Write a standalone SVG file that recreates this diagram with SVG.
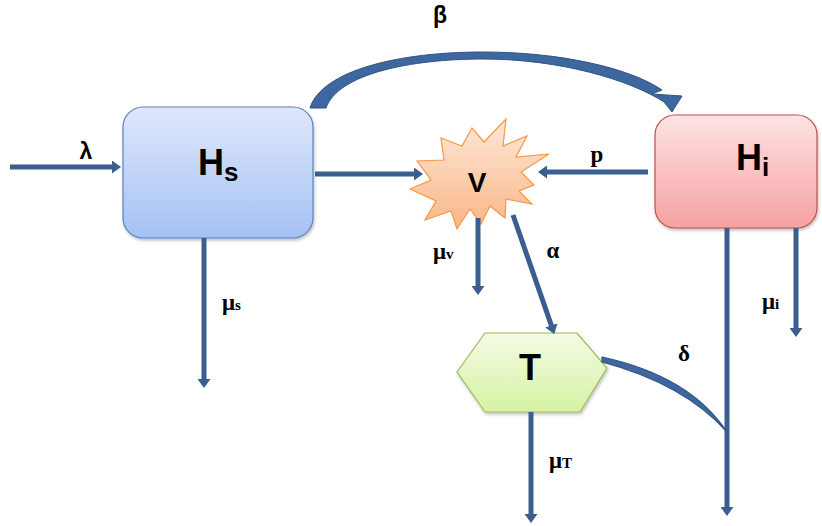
<svg xmlns="http://www.w3.org/2000/svg" width="822" height="526" viewBox="0 0 822 526">
<defs>
<linearGradient id="gHs" x1="0" y1="0" x2="0" y2="1"><stop offset="0" stop-color="#dfe8fa"/><stop offset="1" stop-color="#a4c1f5"/></linearGradient>
<linearGradient id="gHi" x1="0" y1="0" x2="0" y2="1"><stop offset="0" stop-color="#fde3e3"/><stop offset="1" stop-color="#f6a1a1"/></linearGradient>
<linearGradient id="gV" x1="0" y1="0" x2="0" y2="1"><stop offset="0" stop-color="#fde8d6"/><stop offset="1" stop-color="#fab689"/></linearGradient>
<linearGradient id="gT" x1="0" y1="0" x2="0" y2="1"><stop offset="0" stop-color="#f4fbe3"/><stop offset="1" stop-color="#d6f2a3"/></linearGradient>
<filter id="sh" x="-10%" y="-10%" width="130%" height="130%"><feDropShadow dx="1" dy="2" stdDeviation="1.5" flood-color="#000" flood-opacity="0.25"/></filter>
<marker id="ah" markerUnits="userSpaceOnUse" markerWidth="9" markerHeight="13" viewBox="0 0 9 13" refX="1" refY="6.5" orient="auto"><path d="M0,0 L9,6.5 L0,13 Z" fill="#3a5f8f"/></marker>
</defs>
<style>
.c{stroke:#3a5f8f;stroke-width:5;fill:none}
.a{marker-end:url(#ah)}
.n{font-family:"Liberation Sans",Arial,sans-serif;font-weight:bold;fill:#000}
.l{font-family:"Liberation Serif","Times New Roman",serif;font-weight:bold;fill:#000;font-size:23px}
.s{font-family:"Liberation Sans",Arial,sans-serif}
</style>
<g id="Hs"><rect x="123" y="107" width="190" height="131" rx="20" fill="url(#gHs)" stroke="#5a83bd" stroke-width="1.2" filter="url(#sh)"/><text class="n" x="198" y="175" font-size="36">H<tspan font-size="26" dy="6">s</tspan></text></g>
<g id="Hi"><rect x="655" y="115" width="162" height="113" rx="20" fill="url(#gHi)" stroke="#c0504d" stroke-width="1.2" filter="url(#sh)"/><text class="n" x="736" y="170" font-size="36">H<tspan font-size="26" dy="6">i</tspan></text></g>
<g id="V"><path d="M441,138 L462,146 L472,128 L484,142 L506,119 L503,146 L527,136 L516,157 L549,154 L521,172 L534,185 L519,191 L532,204 L506,199 L505,218 L490,206 L481,224 L470,209 L457,229 L451,211 L425,220 L436,201 L410,189 L431,180 L417,161 L444,160 Z" fill="url(#gV)" stroke="#f79646" stroke-width="1.2" stroke-linejoin="miter"/><text class="n" x="477" y="192" font-size="28" text-anchor="middle">V</text></g>
<g id="T"><polygon points="457,372 485,333 577,333 607,368 580,412 485,412" fill="url(#gT)" stroke="#9bbb59" stroke-width="1.2" filter="url(#sh)"/><text class="n" x="530" y="380" font-size="36" text-anchor="middle">T</text></g>
<g id="connectors">
<line class="c a" x1="10" y1="167" x2="113" y2="167"/>
<line class="c a" x1="315" y1="174" x2="415" y2="174"/>
<line class="c a" x1="648" y1="172" x2="546" y2="172"/>
<line class="c a" x1="204" y1="238" x2="204" y2="380"/>
<line class="c a" x1="478" y1="218" x2="478" y2="287"/>
<line class="c a" x1="513" y1="215" x2="551.7" y2="326.4"/>
<line class="c a" x1="531" y1="412" x2="531" y2="515"/>
<line class="c a" x1="727" y1="228" x2="727" y2="508"/>
<line class="c a" x1="796" y1="228" x2="796" y2="329"/>
<path d="M310,108 C322,70 400,52 483,52 C560,52 630,68 662,90 L652,94 L682,96 L672,112 L664,102 C630,80 560,59 483,59 C410,59 338,74 326,108 Z" fill="#3e67a0" stroke="#2f5485" stroke-width="1"/>
<path d="M602,357 Q690,376 727,432 Q684,384 602,362 Z" fill="#3e67a0" stroke="#2f5485" stroke-width="1.2"/>
</g>
<g id="labels">
<text class="l s" x="440" y="23" text-anchor="middle">β</text>
<text class="l s" x="86" y="159" text-anchor="middle">λ</text>
<text class="l" x="597" y="162" text-anchor="middle">p</text>
<text class="l" x="433" y="259">μ<tspan font-size="15">v</tspan></text>
<text class="l" x="553" y="258" text-anchor="middle">α</text>
<text class="l" x="222" y="310">μ<tspan font-size="15">s</tspan></text>
<text class="l" x="762" y="309">μ<tspan font-size="15">i</tspan></text>
<text class="l" x="549" y="468">μ<tspan font-size="15">T</tspan></text>
<text class="l" x="684" y="361" text-anchor="middle">δ</text>
</g>
</svg>
